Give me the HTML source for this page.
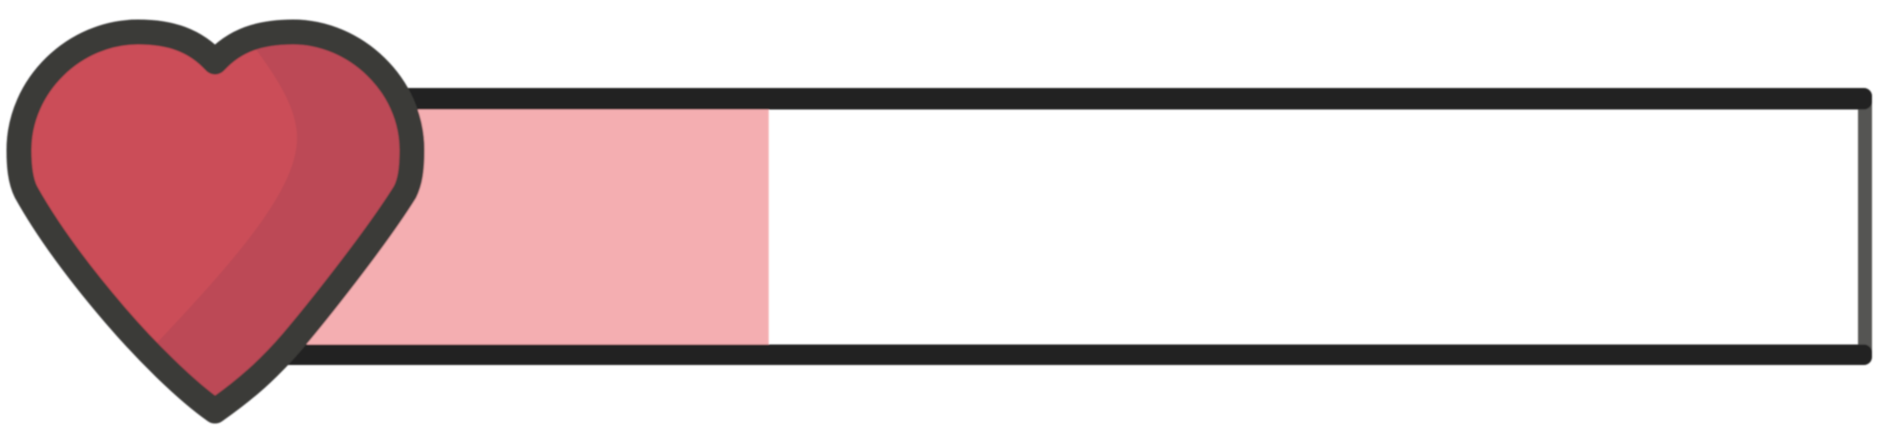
<!DOCTYPE html>
<html lang="en">
<head>
<meta charset="utf-8">
<title>Health bar</title>
<style>
  html, body { margin: 0; padding: 0; background: #ffffff; width: 1879px; height: 445px; overflow: hidden; }
  svg { display: block; }
</style>
</head>
<body>
<svg id="chart" width="1879" height="445" viewBox="0 0 1879 445" xmlns="http://www.w3.org/2000/svg">
  <defs>
    <filter id="soft" x="-5%" y="-5%" width="110%" height="110%"><feGaussianBlur stdDeviation="0.8"/></filter>
    <clipPath id="heart-clip">
      <path d="M215 62 C195 40 170 32 138 32 C75 32 19 85 19 150 C19 165 20 180 26 192 C50 235 85 280 115 315 C145 350 185 390 215 411 C245 390 268 370 292 342 C315 315 375 240 405 192 C410 182 412 170 412 150 C412 85 355 32 293 32 C260 32 235 40 215 62 Z"/>
    </clipPath>
  </defs>
  <g id="plot" filter="url(#soft)">
    <g id="fill-layer"></g>
    <rect x="1858" y="95" width="14" height="262" fill="#555553"/>
    <rect x="300" y="88" width="1572" height="21.5" rx="8" fill="#232321"/>
    <rect x="275" y="344.5" width="1597" height="20.5" rx="8" fill="#232321"/>
    <g>
      <path d="M215 62 C195 40 170 32 138 32 C75 32 19 85 19 150 C19 165 20 180 26 192 C50 235 85 280 115 315 C145 350 185 390 215 411 C245 390 268 370 292 342 C315 315 375 240 405 192 C410 182 412 170 412 150 C412 85 355 32 293 32 C260 32 235 40 215 62 Z" fill="#bc4a56"/>
      <path clip-path="url(#heart-clip)" d="M0 0 L245 0 L245 35 C280 80 297 110 297 138 C297 190 235 260 155 345 L150 445 L0 445 Z" fill="#cb4d58"/>
      <path d="M215 62 C195 40 170 32 138 32 C75 32 19 85 19 150 C19 165 20 180 26 192 C50 235 85 280 115 315 C145 350 185 390 215 411 C245 390 268 370 292 342 C315 315 375 240 405 192 C410 182 412 170 412 150 C412 85 355 32 293 32 C260 32 235 40 215 62 Z" fill="none" stroke="#3b3b39" stroke-width="25" stroke-linejoin="round"/>
    </g>
  </g>
</svg>
<script>
const categories = ['health'];
const healthValues = [33.7];
const domainMax = [100];

function xScale(v) {
  return 215 + (v / domainMax[0]) * (1858 - 215);
}

const layer = document.getElementById('fill-layer');
categories.forEach(function (c, i) {
  const rect = document.createElementNS('http://www.w3.org/2000/svg', 'rect');
  
  
  rect.setAttribute('x', xScale(0));
  rect.setAttribute('y', 105);
  rect.setAttribute('width', xScale(healthValues[i]) - xScale(0));
  rect.setAttribute('height', 243);
  rect.setAttribute('fill', '#f4aeb1');
  layer.appendChild(rect);
});
</script>
</body>
</html>
